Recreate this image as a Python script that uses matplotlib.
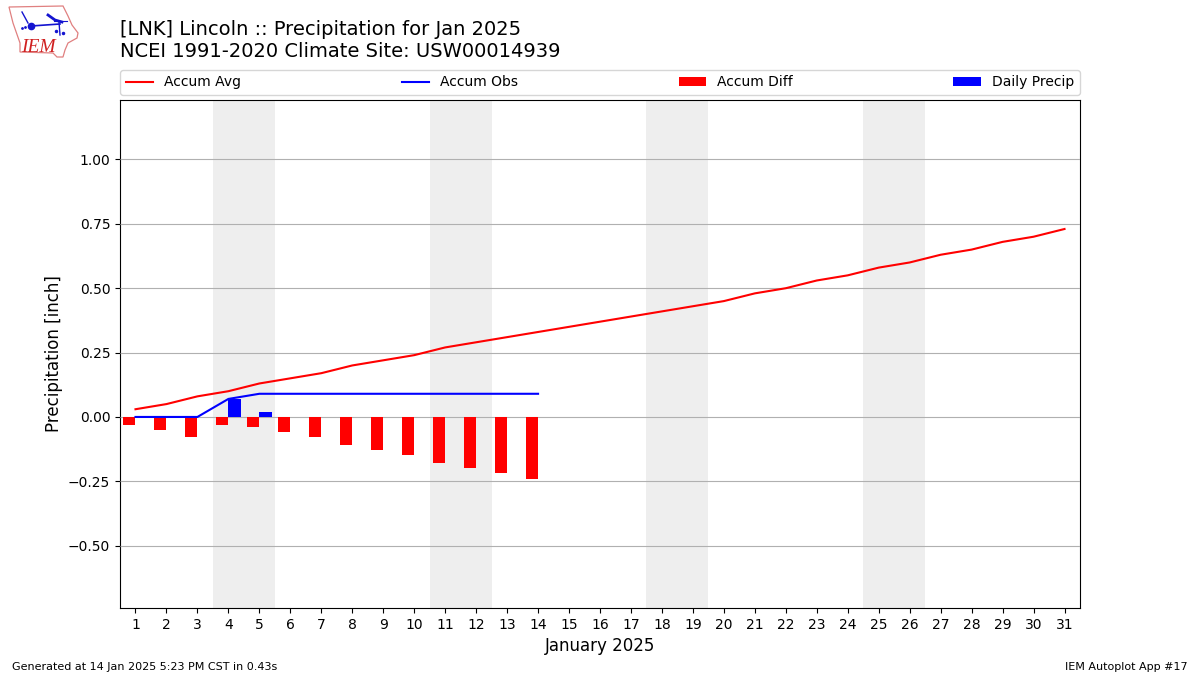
#!/usr/bin/env python3
"""Accumulated precipitation for Lincoln, Jan 2025."""

import matplotlib
matplotlib.use("Agg")
import matplotlib.pyplot as plt
from matplotlib.patches import Polygon

days = list(range(1, 32))
accum_avg = [0.03, 0.05, 0.08, 0.10, 0.13, 0.15, 0.17, 0.20, 0.22, 0.24, 0.27,
             0.29, 0.31, 0.33, 0.35, 0.37, 0.39, 0.41, 0.43, 0.45, 0.48, 0.50,
             0.53, 0.55, 0.58, 0.60, 0.63, 0.65, 0.68, 0.70, 0.73]
obs_days = list(range(1, 15))
accum_obs = [0, 0, 0, 0.07, 0.09, 0.09, 0.09, 0.09, 0.09, 0.09, 0.09, 0.09, 0.09, 0.09]
accum_diff = [-0.03, -0.05, -0.078, -0.03, -0.04, -0.06, -0.078, -0.108, -0.128,
              -0.148, -0.178, -0.198, -0.217, -0.24]
daily_precip = [0, 0, 0, 0.07, 0.02, 0, 0, 0, 0, 0, 0, 0, 0, 0]
weekends = [(3.5, 5.5), (10.5, 12.5), (17.5, 19.5), (24.5, 26.5)]
y_ticks = [-0.50, -0.25, 0.00, 0.25, 0.50, 0.75, 1.00]


def px_rect(x0, y0, x1, y1):
    """Figure rect from pixel edges, y measured from the top."""
    return [x0 / 1200, 1 - y1 / 675, (x1 - x0) / 1200, (y1 - y0) / 675]


def draw_logo(fig):
    # IEM logo, redrawn roughly (pixel coords of the reference)
    ax = fig.add_axes(px_rect(0, 0, 90, 65))
    ax.set_xlim(0, 90)
    ax.set_ylim(65, 0)
    ax.axis("off")
    outline = [(9, 7), (63, 6), (68, 16), (72, 25), (78, 33), (77, 38), (68, 43),
               (65, 50), (63, 57), (57, 57), (53, 53), (20, 52), (20, 43),
               (13, 23), (9, 7)]
    ax.add_patch(Polygon(outline, closed=True, fill=False, edgecolor="#e08080", linewidth=0.9))
    blue = "#1414d0"
    ax.plot([31, 60], [26, 24], color=blue, lw=1.2)
    ax.plot([31], [26], "o", color=blue, ms=4.5)
    ax.plot([48, 55, 62], [15, 20, 22], color=blue, lw=2)
    ax.plot([54, 67], [21, 21], color=blue, lw=0.8)
    ax.plot([59, 60], [22, 35], color=blue, lw=1)
    ax.plot([22, 28], [12, 23], color=blue, lw=1)
    ax.plot([22, 25], [28, 27], ".", color=blue, ms=2)
    ax.plot([56, 63], [31, 33], ".", color=blue, ms=3)
    ax.text(21, 52, "IEM", color="#d02020", fontsize=14, style="italic",
            family="Liberation Serif", va="baseline")


def main():
    fig = plt.figure(figsize=(12, 6.75), dpi=100)
    ax = fig.add_axes(px_rect(120, 100, 1080, 608))

    for start, end in weekends:
        ax.axvspan(start, end, color="#EEEEEE", zorder=1, linewidth=0)

    ax.bar(obs_days, accum_diff, width=-0.4, align="edge", color="r",
           label="Accum Diff", zorder=3)
    ax.bar(obs_days, daily_precip, width=0.4, align="edge", color="b",
           label="Daily Precip", zorder=3)
    ax.plot(days, accum_avg, color="r", label="Accum Avg", zorder=4)
    ax.plot(obs_days, accum_obs, color="b", label="Accum Obs", zorder=4)

    ax.set_xlim(0.5, 31.5)
    ax.set_ylim(-0.742, 1.231)
    ax.set_xticks(days)
    ax.set_yticks(y_ticks)
    ax.grid(axis="y", zorder=2)
    ax.set_axisbelow(False)
    ax.tick_params(axis="both", labelsize=10)
    ax.set_xlabel("January 2025", fontsize=12)
    ax.set_ylabel("Precipitation [inch]", fontsize=12, labelpad=3.5)

    handles, labels = ax.get_legend_handles_labels()
    order = [labels.index(n) for n in ("Accum Avg", "Accum Obs", "Accum Diff", "Daily Precip")]
    ax.legend([handles[i] for i in order], [labels[i] for i in order],
              loc="lower left", bbox_to_anchor=(0, 1.0098, 1, 0.05), mode="expand",
              ncol=4, fontsize=10, borderaxespad=0)

    fig.text(120 / 1200, 1 - 35 / 675, "[LNK] Lincoln :: Precipitation for Jan 2025",
             fontsize=14, ha="left", va="baseline")
    fig.text(120 / 1200, 1 - 57 / 675, "NCEI 1991-2020 Climate Site: USW00014939",
             fontsize=14, ha="left", va="baseline")
    fig.text(12 / 1200, 1 - 670 / 675, "Generated at 14 Jan 2025 5:23 PM CST in 0.43s",
             fontsize=8, ha="left", va="baseline")
    fig.text(1188 / 1200, 1 - 670 / 675, "IEM Autoplot App #17",
             fontsize=8, ha="right", va="baseline")

    draw_logo(fig)
    fig.savefig("out.png", dpi=100)
    plt.close(fig)


if __name__ == "__main__":
    main()
